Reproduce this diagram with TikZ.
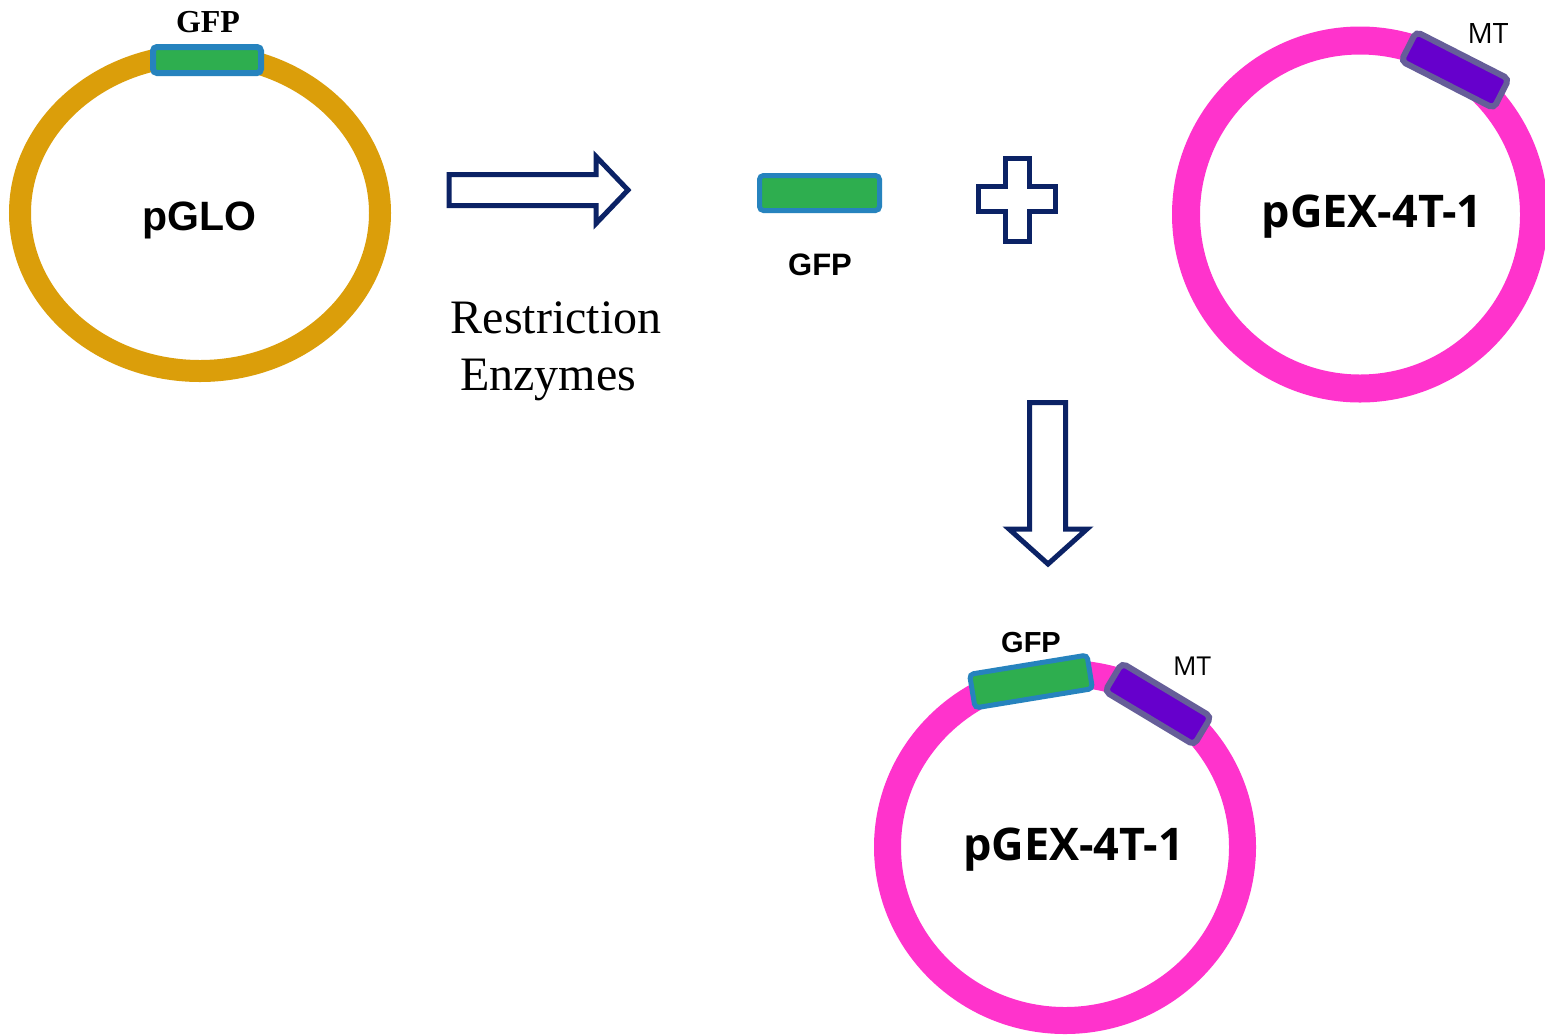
\documentclass[tikz,border=0pt]{standalone}
\usepackage{fontspec}
\newfontfamily\arialf{Liberation Sans}
\newfontfamily\timesf{Liberation Serif}
\newfontfamily\osans{Open Sans}
\definecolor{gold}{HTML}{DB9E0A}
\definecolor{mag}{HTML}{FF33CC}
\definecolor{gfpfill}{HTML}{2EAE4F}
\definecolor{gfpline}{HTML}{2683BE}
\definecolor{mtfill}{HTML}{6600CC}
\definecolor{mtline}{HTML}{665E99}
\definecolor{navy}{HTML}{0B2265}
\tikzset{
  gfpbox/.style={draw=gfpline, fill=gfpfill, rounded corners=2pt, inner sep=0pt},
  mtbox/.style={draw=mtline, fill=mtfill, line width=3pt, rounded corners=2.5pt, inner sep=0pt},
  bigarrow/.style={draw=navy, fill=white, line width=2.5pt},
}
\begin{document}
\begin{tikzpicture}[x=0.5pt,y=-0.5pt]
\useasboundingbox[fill=white] (0,0) rectangle (1545,1035);
% rings
\draw[gold, line width=11pt] (200,213) ellipse [x radius=180, y radius=158];
\draw[mag, line width=14pt] (1360,214.5) circle [radius=174];
\draw[mag, line width=13.5pt] (1065,847) ellipse [x radius=177.5, y radius=173.5];
% inserts
\node[gfpbox, line width=3pt, minimum width=54pt, minimum height=13pt] (gfp1) at (207,60) {};
\node[gfpbox, line width=2.5pt, minimum width=60pt, minimum height=17.5pt] (gfp2) at (819.5,193) {};
\node[mtbox, minimum width=52pt, minimum height=16.5pt, rotate=-27] (mt1) at (1455,70) {};
\node[gfpbox, line width=2.5pt, minimum width=59.5pt, minimum height=17pt, rotate=9.3] (gfp3) at (1031,681.5) {};
\node[mtbox, minimum width=52pt, minimum height=16.5pt, rotate=-31] (mt2) at (1158,704) {};
% arrows and plus
\draw[bigarrow] (449,174.5) -- (596,174.5) -- (596,156.5) -- (628,190) -- (596,223.5) -- (596,205.5) -- (449,205.5) -- cycle;
\draw[bigarrow] (1029.5,402.5) -- (1065.5,402.5) -- (1065.5,529) -- (1087,529) -- (1048,564) -- (1009,529) -- (1029.5,529) -- cycle;
\draw[bigarrow] (1005,158) -- (1029,158) -- (1029,186) -- (1055,186) -- (1055,211) -- (1029,211) -- (1029,241) -- (1005,241) -- (1005,211) -- (978,211) -- (978,186) -- (1005,186) -- cycle;
% labels
\node[anchor=base, inner sep=0pt, font=\timesf\bfseries\fontsize{16pt}{18pt}\selectfont] (l1) at (208,32) {GFP};
\node[anchor=base, inner sep=0pt, font=\arialf\bfseries\fontsize{20.5pt}{24pt}\selectfont] (l2) at (199,230) {pGLO};
\node[anchor=base, inner sep=0pt, font=\timesf\fontsize{24pt}{28pt}\selectfont] (l3) at (556,333) {Restriction};
\node[anchor=base, inner sep=0pt, font=\timesf\fontsize{24pt}{28pt}\selectfont] (l4) at (548,390) {Enzymes};
\node[anchor=base, inner sep=0pt, font=\arialf\bfseries\fontsize{15.5pt}{18pt}\selectfont] (l5) at (820,275) {GFP};
\node[anchor=base, inner sep=0pt, font=\osans\bfseries\fontsize{22.5pt}{26pt}\selectfont] (l6) at (1372,227) {pGEX-4T-1};
\node[anchor=base, inner sep=0pt, font=\osans\fontsize{14pt}{16pt}\selectfont] (l7) at (1488,43) {MT};
\node[anchor=base, inner sep=0pt, font=\arialf\bfseries\fontsize{14.5pt}{16pt}\selectfont] (l8) at (1031,652) {GFP};
\node[anchor=base, inner sep=0pt, font=\osans\fontsize{13pt}{15pt}\selectfont] (l9) at (1192,675) {MT};
\node[anchor=base, inner sep=0pt, font=\osans\bfseries\fontsize{22.5pt}{26pt}\selectfont] (l10) at (1073.5,860) {pGEX-4T-1};
\end{tikzpicture}
\end{document}
